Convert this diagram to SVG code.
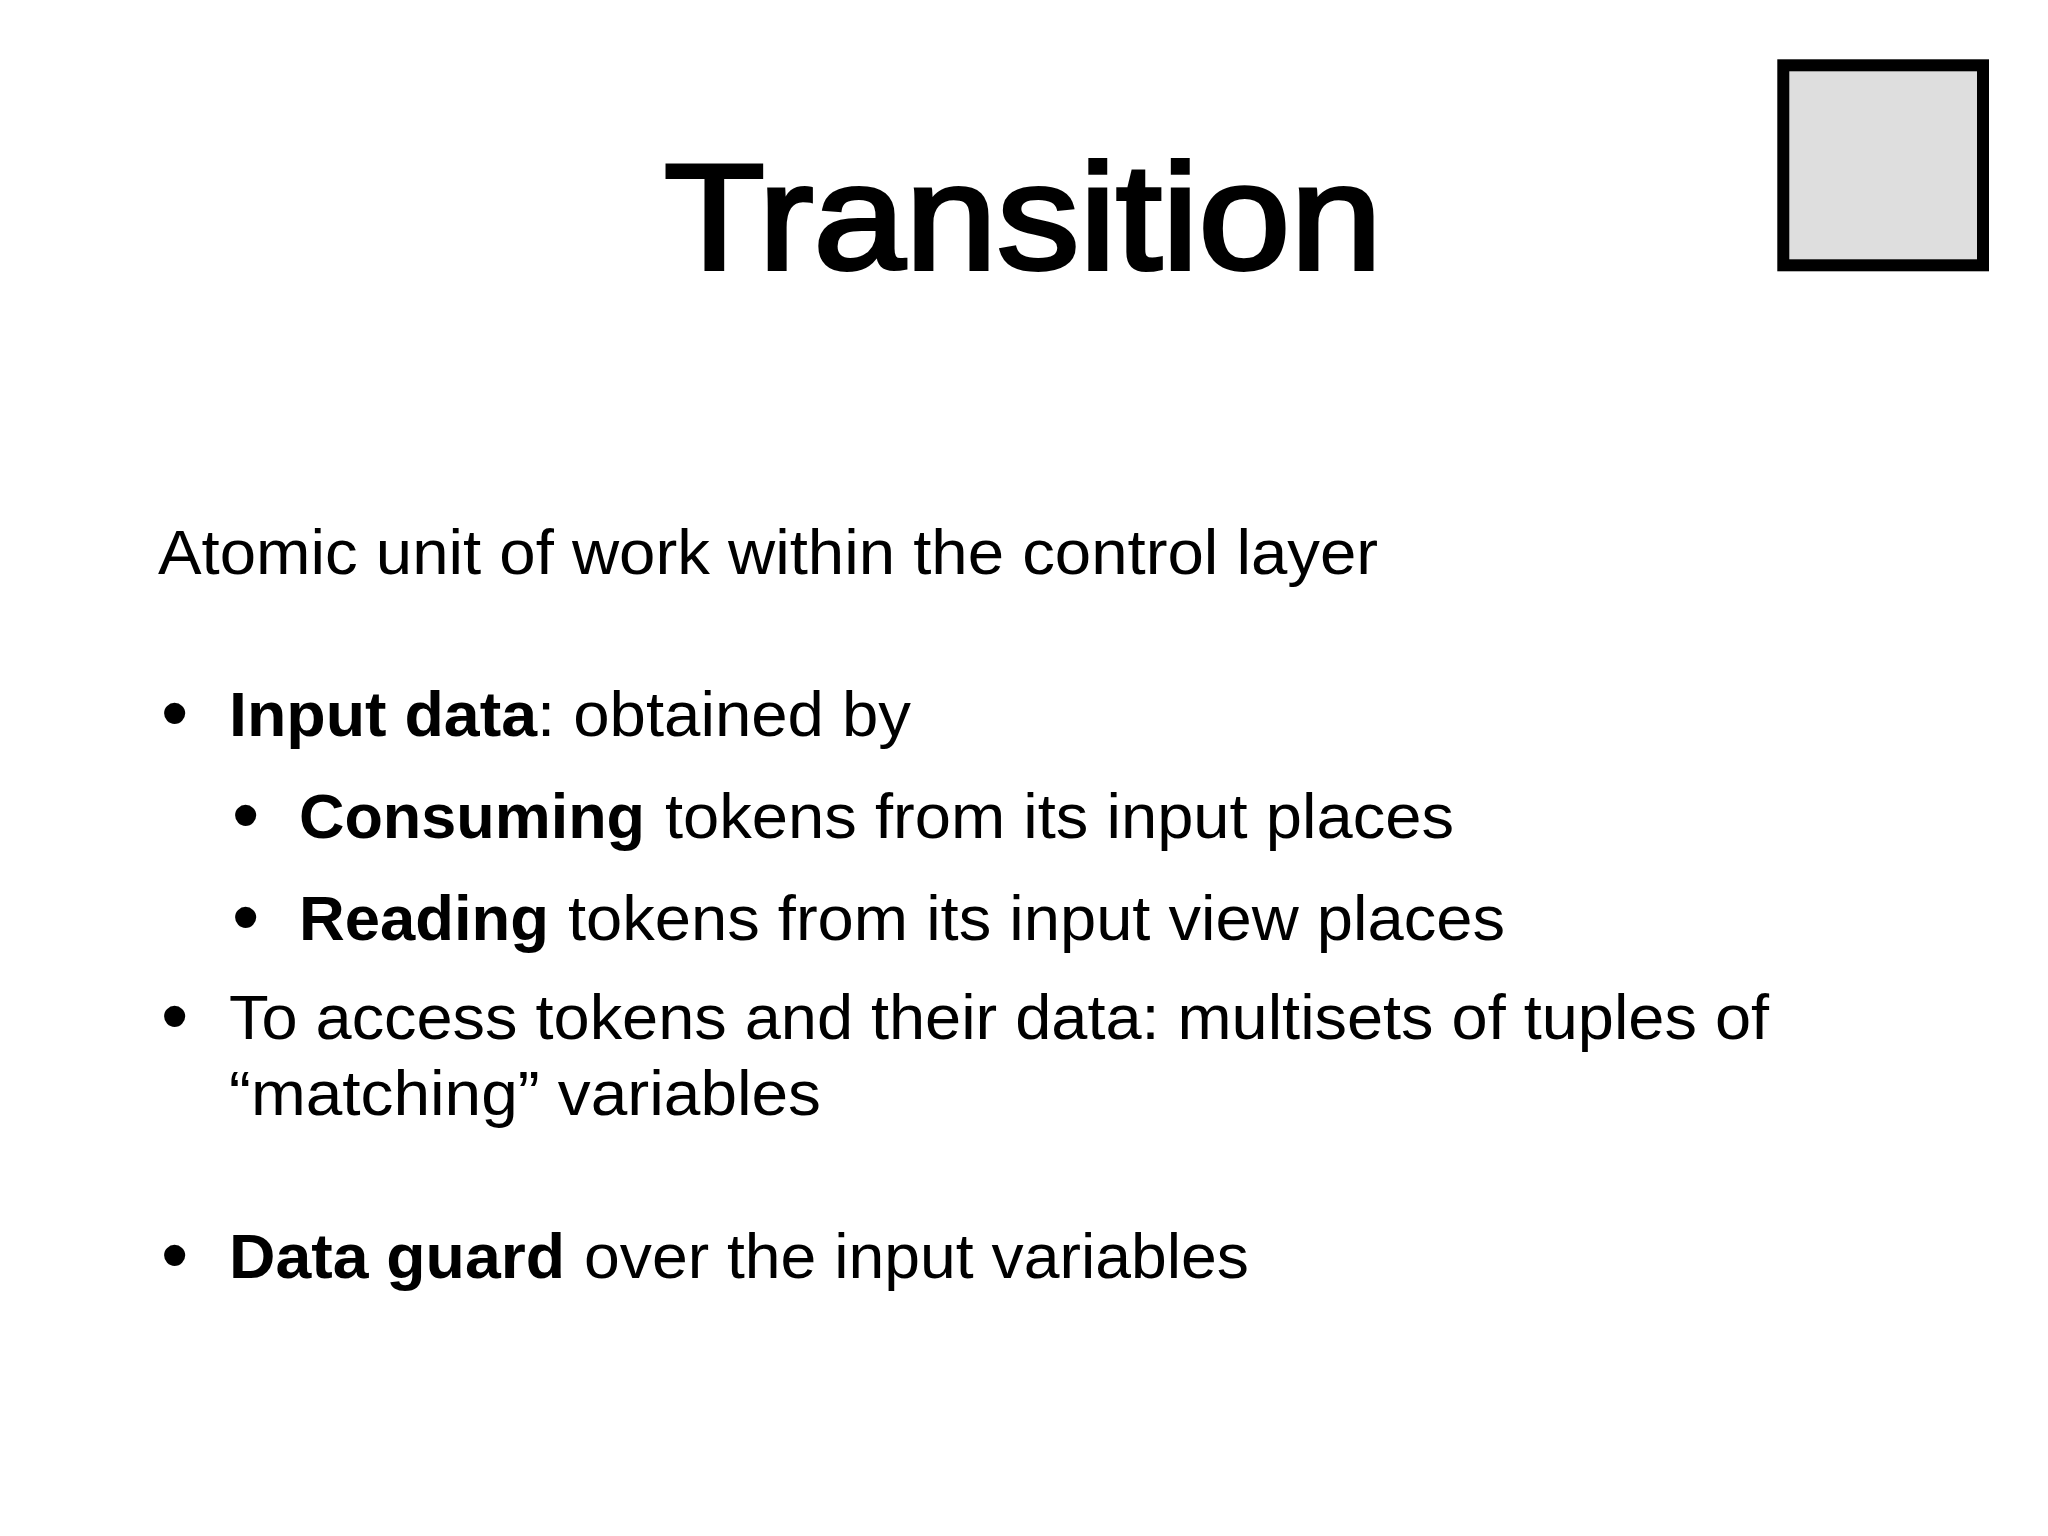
<svg xmlns="http://www.w3.org/2000/svg" width="2048" height="1536" viewBox="0 0 2048 1536">
<style>
text{font-family:"Liberation Sans",Arial,sans-serif;fill:#000}
.b{font-size:63px}
.h{font-weight:700}
.d{font-size:78px}
</style>
<rect width="2048" height="1536" fill="#fff"/>
<text x="664" y="269" font-size="150" stroke="#000" stroke-width="4" textLength="718" lengthAdjust="spacingAndGlyphs">Transition</text>
<rect x="1783.3" y="65.3" width="199.7" height="200" fill="#dedede" stroke="#000" stroke-width="12"/>
<text class="b" x="158" y="574" textLength="1220" lengthAdjust="spacingAndGlyphs">Atomic unit of work within the control layer</text>
<text class="d" x="161" y="739">•</text>
<text class="b h" x="229" y="736" textLength="308" lengthAdjust="spacingAndGlyphs">Input data</text>
<text class="b" x="537" y="736" textLength="374" lengthAdjust="spacingAndGlyphs">: obtained by</text>
<text class="d" x="232" y="841">•</text>
<text class="b h" x="299" y="838" textLength="346" lengthAdjust="spacingAndGlyphs">Consuming</text>
<text class="b" x="665" y="838" textLength="789" lengthAdjust="spacingAndGlyphs">tokens from its input places</text>
<text class="d" x="232" y="943">•</text>
<text class="b h" x="299" y="940" textLength="250" lengthAdjust="spacingAndGlyphs">Reading</text>
<text class="b" x="568" y="940" textLength="937" lengthAdjust="spacingAndGlyphs">tokens from its input view places</text>
<text class="d" x="161" y="1042">•</text>
<text class="b" x="229" y="1039" textLength="1540" lengthAdjust="spacingAndGlyphs">To access tokens and their data: multisets of tuples of</text>
<text class="b" x="229" y="1115" textLength="592" lengthAdjust="spacingAndGlyphs">“matching” variables</text>
<text class="d" x="161" y="1281">•</text>
<text class="b h" x="229" y="1278" textLength="336" lengthAdjust="spacingAndGlyphs">Data guard</text>
<text class="b" x="584" y="1278" textLength="665" lengthAdjust="spacingAndGlyphs">over the input variables</text>
</svg>
